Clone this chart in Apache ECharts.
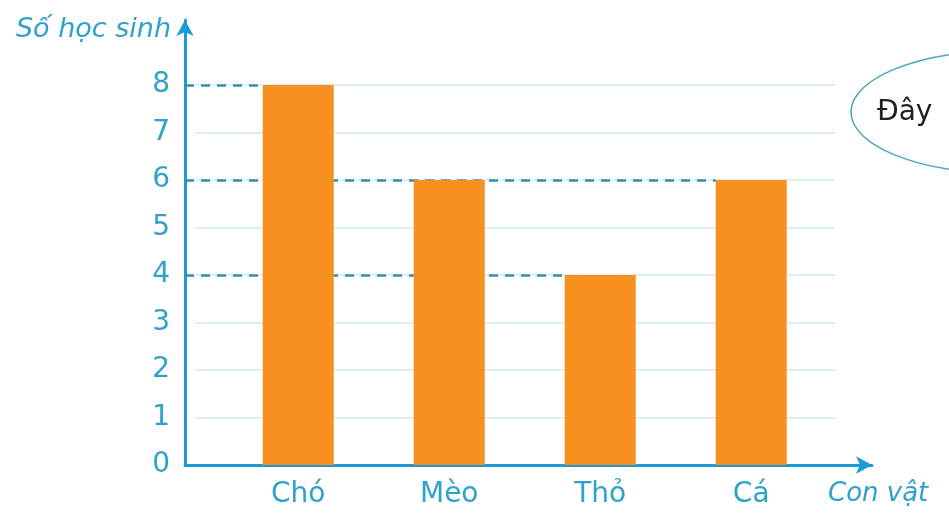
<!DOCTYPE html>
<html>
<head>
<meta charset="utf-8">
<script src="https://cdn.jsdelivr.net/npm/echarts@6/dist/echarts.min.js"></script>
<style>
html,body{margin:0;padding:0;background:#fff;}
#chart{width:949px;height:513px;}
</style>
</head>
<body>
<div id="chart"></div>
<script>
const categories = ['Chó', 'Mèo', 'Thỏ', 'Cá'];
const values = [8, 6, 4, 6];
const yTickLabels = [0, 1, 2, 3, 4, 5, 6, 7, 8];
const yAxisTitle = 'Số học sinh';
const xAxisTitle = 'Con vật';
const bubbleText = 'Đây';

const FONT = '"DejaVu Sans", sans-serif';
const BLUE = '#1b9ad6';
const TEXT = '#2fa2ca';
const ORANGE = '#f7901e';
const HALF_BAR = 0.235; // half bar width, in category units

// light horizontal grid lines
const gridLines = yTickLabels.filter(v => v > 0).map(v => [
  { coord: [-0.685, v] },
  { coord: [3.555, v] }
]);
// dashed guide lines from the y axis to the last bar of each height
const guideLines = [];
[...new Set(values)].forEach(v => {
  const last = values.lastIndexOf(v);
  guideLines.push([{ coord: [-0.75, v] }, { coord: [last - HALF_BAR, v] }]);
});

const chart = echarts.init(document.getElementById('chart'));
chart.setOption({
  animation: false,
  backgroundColor: '#fff',
  grid: { left: 185, right: 77, top: 20, bottom: 48, containLabel: false },
  xAxis: {
    type: 'value',
    min: -0.75,
    max: 3.8,
    splitLine: { show: false },
    axisTick: { show: false },
    axisLine: {
      show: true,
      onZero: false,
      symbol: ['none', 'arrow'],
      symbolSize: [13, 16],
      lineStyle: { color: BLUE, width: 3 }
    },
    axisLabel: {
      customValues: categories.map((c, i) => i),
      formatter: v => categories[Math.round(v)] || '',
      color: TEXT,
      fontFamily: FONT,
      fontSize: 28,
      margin: 16
    },
    name: xAxisTitle,
    nameLocation: 'end',
    nameGap: -44,
    nameTextStyle: {
      color: TEXT, fontFamily: FONT, fontSize: 26, fontStyle: 'italic',
      align: 'left', verticalAlign: 'top', padding: [16, 0, 0, 0]
    }
  },
  yAxis: {
    type: 'value',
    min: 0,
    max: 445 / 47.5,
    interval: 1,
    splitLine: { show: false },
    axisTick: { show: false },
    axisLine: {
      show: true,
      onZero: false,
      symbol: ['none', 'arrow'],
      symbolSize: [13, 16],
      lineStyle: { color: BLUE, width: 3 }
    },
    axisLabel: {
      formatter: v => (yTickLabels.indexOf(v) >= 0 ? String(v) : ''),
      color: TEXT,
      fontFamily: FONT,
      fontSize: 28,
      margin: 15
    },
    name: yAxisTitle,
    nameLocation: 'end',
    nameGap: -10,
    nameTextStyle: {
      color: TEXT, fontFamily: FONT, fontSize: 27, fontStyle: 'italic',
      align: 'right', verticalAlign: 'middle', padding: [0, 14, 0, 0]
    }
  },
  series: [
    {
      type: 'line',
      data: [],
      silent: true,
      z: 1,
      markLine: {
        silent: true,
        z: 1,
        symbol: 'none',
        label: { show: false },
        lineStyle: { color: '#d3e9f2', width: 1.5, type: 'solid' },
        data: gridLines
      }
    },
    {
      type: 'line',
      data: [],
      silent: true,
      z: 2,
      markLine: {
        silent: true,
        z: 2,
        symbol: 'none',
        label: { show: false },
        lineStyle: { color: '#3590ab', width: 2.5, type: [9, 7] },
        data: guideLines
      }
    },
    {
      type: 'bar',
      z: 5,
      barWidth: 71,
      itemStyle: { color: ORANGE },
      data: values.map((v, i) => [i, v])
    }
  ],
  graphic: [
    {
      type: 'ellipse',
      shape: { cx: 1002, cy: 112, rx: 151, ry: 61 },
      style: { fill: '#fff', stroke: '#4aa6ba', lineWidth: 1.5 },
      z: 10
    },
    {
      type: 'text',
      left: 877,
      top: 99,
      style: { text: bubbleText, fill: '#222', font: '28px ' + FONT },
      z: 11
    }
  ]
});
</script>
</body>
</html>
